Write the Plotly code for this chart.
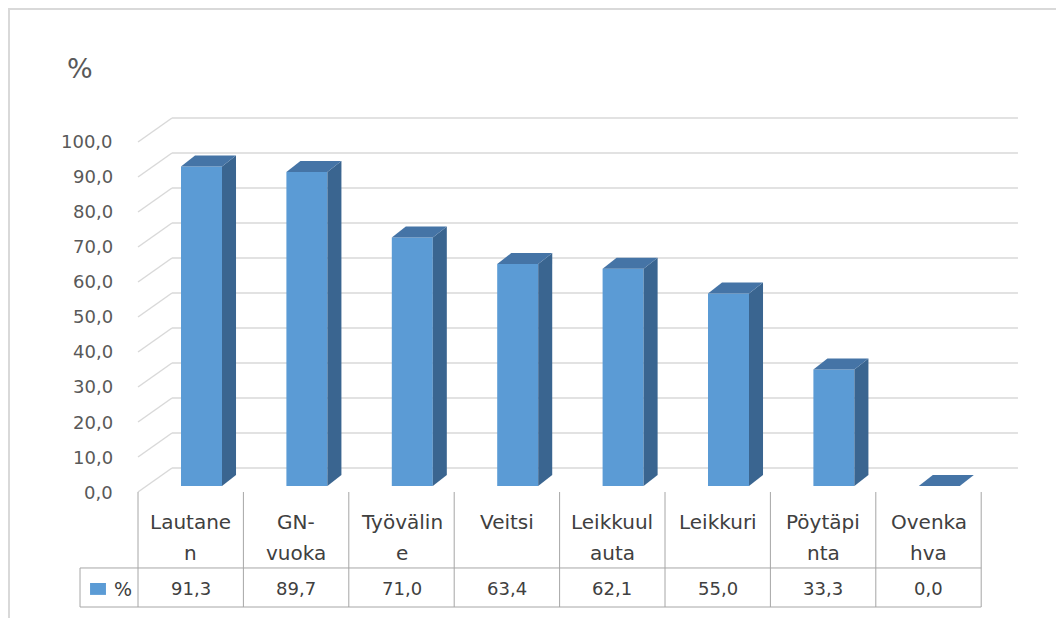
import plotly.graph_objects as go

# ---- data ----
categories = ["Lautanen", "GN-vuoka", "Työväline", "Veitsi",
              "Leikkuulauta", "Leikkuri", "Pöytäpinta", "Ovenkahva"]
category_labels = [["Lautane", "n"], ["GN-", "vuoka"], ["Työvälin", "e"], ["Veitsi"],
                   ["Leikkuul", "auta"], ["Leikkuri"], ["Pöytäpi", "nta"], ["Ovenka", "hva"]]
values = [91.3, 89.7, 71.0, 63.4, 62.1, 55.0, 33.3, 0.0]
value_labels = ["91,3", "89,7", "71,0", "63,4", "62,1", "55,0", "33,3", "0,0"]
y_ticks = [0, 10, 20, 30, 40, 50, 60, 70, 80, 90, 100]
y_tick_labels = ["0,0", "10,0", "20,0", "30,0", "40,0", "50,0",
                 "60,0", "70,0", "80,0", "90,0", "100,0"]
series_name = "%"

# ---- style / geometry (axis units) ----
FRONT = "#5B9BD5"
SIDE = "#3A6590"
TOP = "#4574A6"
GRID = "#D9D9D9"
TABLE_LINE = "#A6A6A6"
TXT = "#404040"
AXTXT = "#595959"
FONT = "DejaVu Sans"

BAR_OFFSET = -0.092
BAR_WIDTH = 0.389
BAR_BASE = 1.71
DEPTH_DX = 0.133
DEPTH_DY = 3.14
WALL_DX = 0.3226
WALL_DY = 6.857
X_LEFT = -0.5
X_WALL_RIGHT = 7.849
TABLE_HEAD_Y = [-8.57, -17.43]
ROW_DIV = -21.71
ROW_BOTTOM = -32.86
VAL_Y = -27.6
LEG_LEFT = -1.05

n = len(categories)
xs = list(range(n))

fig = go.Figure()

# front faces of the bars
fig.add_trace(go.Bar(
    x=xs, y=values, base=BAR_BASE, offset=BAR_OFFSET, width=BAR_WIDTH,
    marker=dict(color=FRONT, line=dict(width=0)), name=series_name,
    showlegend=False, hoverinfo="skip"))

# side and top faces
for i, v in enumerate(values):
    xl = i + BAR_OFFSET
    xr = xl + BAR_WIDTH
    yb = BAR_BASE
    yt = BAR_BASE + v
    if v > 0:
        fig.add_trace(go.Scatter(
            x=[xr, xr + DEPTH_DX, xr + DEPTH_DX, xr, xr],
            y=[yb, yb + DEPTH_DY, yt + DEPTH_DY, yt, yb],
            fill="toself", fillcolor=SIDE, mode="lines", line=dict(width=0, color=SIDE),
            showlegend=False, hoverinfo="skip"))
    fig.add_trace(go.Scatter(
        x=[xl, xr, xr + DEPTH_DX, xl + DEPTH_DX, xl],
        y=[yt, yt, yt + DEPTH_DY, yt + DEPTH_DY, yt],
        fill="toself", fillcolor=TOP, mode="lines", line=dict(width=0, color=TOP),
        showlegend=False, hoverinfo="skip"))

shapes = []
# back wall gridlines and side-wall diagonals
for t in y_ticks:
    shapes.append(dict(type="line", xref="x", yref="y", layer="below",
                       x0=X_LEFT + WALL_DX, x1=X_WALL_RIGHT, y0=t + WALL_DY, y1=t + WALL_DY,
                       line=dict(color=GRID, width=1.5)))
    shapes.append(dict(type="line", xref="x", yref="y", layer="below",
                       x0=X_LEFT, x1=X_LEFT + WALL_DX, y0=t, y1=t + WALL_DY,
                       line=dict(color=GRID, width=1.5)))

# data table lines
for k in range(n + 1):
    shapes.append(dict(type="line", xref="x", yref="y",
                       x0=X_LEFT + k, x1=X_LEFT + k, y0=0, y1=ROW_BOTTOM,
                       line=dict(color=TABLE_LINE, width=1)))
for yy in (ROW_DIV, ROW_BOTTOM):
    shapes.append(dict(type="line", xref="x", yref="y",
                       x0=LEG_LEFT, x1=X_LEFT + n, y0=yy, y1=yy,
                       line=dict(color=TABLE_LINE, width=1)))
shapes.append(dict(type="line", xref="x", yref="y",
                   x0=LEG_LEFT, x1=LEG_LEFT, y0=ROW_DIV, y1=ROW_BOTTOM,
                   line=dict(color=TABLE_LINE, width=1)))
# legend key
shapes.append(dict(type="rect", xref="x", yref="y",
                   x0=-0.955, x1=-0.804, y0=-26.0, y1=-29.4,
                   fillcolor=FRONT, line=dict(width=0)))

annotations = []
for t, lab in zip(y_ticks, y_tick_labels):
    annotations.append(dict(x=-0.718, y=t, xref="x", yref="y", text=lab,
                            showarrow=False, xanchor="right", yanchor="middle",
                            font=dict(family=FONT, size=18, color=AXTXT)))
for i, lines in enumerate(category_labels):
    for j, ln in enumerate(lines):
        annotations.append(dict(x=i, y=TABLE_HEAD_Y[j], xref="x", yref="y", text=ln,
                                showarrow=False, xanchor="center", yanchor="middle",
                                font=dict(family=FONT, size=20, color=TXT)))
for i, lab in enumerate(value_labels):
    annotations.append(dict(x=i, y=VAL_Y, xref="x", yref="y", text=lab,
                            showarrow=False, xanchor="center", yanchor="middle",
                            font=dict(family=FONT, size=18, color=TXT)))
annotations.append(dict(x=-0.64, y=VAL_Y, xref="x", yref="y", text=series_name,
                        showarrow=False, xanchor="center", yanchor="middle",
                        font=dict(family=FONT, size=19, color=TXT)))
annotations.append(dict(x=-1.05, y=121.1, xref="x", yref="y", text="%",
                        showarrow=False, xanchor="center", yanchor="middle",
                        font=dict(family=FONT, size=27, color=AXTXT)))

fig.update_layout(
    width=1056, height=610,
    margin=dict(l=2, r=0, t=2, b=0),
    paper_bgcolor="white", plot_bgcolor="white",
    shapes=shapes, annotations=annotations,
    showlegend=False,
    xaxis=dict(range=[-1.7144, 8.2856], showgrid=False, zeroline=False,
               showticklabels=False, ticks="", showline=True, side="top",
               linecolor=GRID, linewidth=1.5, fixedrange=True),
    yaxis=dict(range=[-36.0, 137.71], showgrid=False, zeroline=False,
               showticklabels=False, ticks="", showline=True,
               linecolor=GRID, linewidth=1.5, fixedrange=True),
)

fig.write_html("out.html")
